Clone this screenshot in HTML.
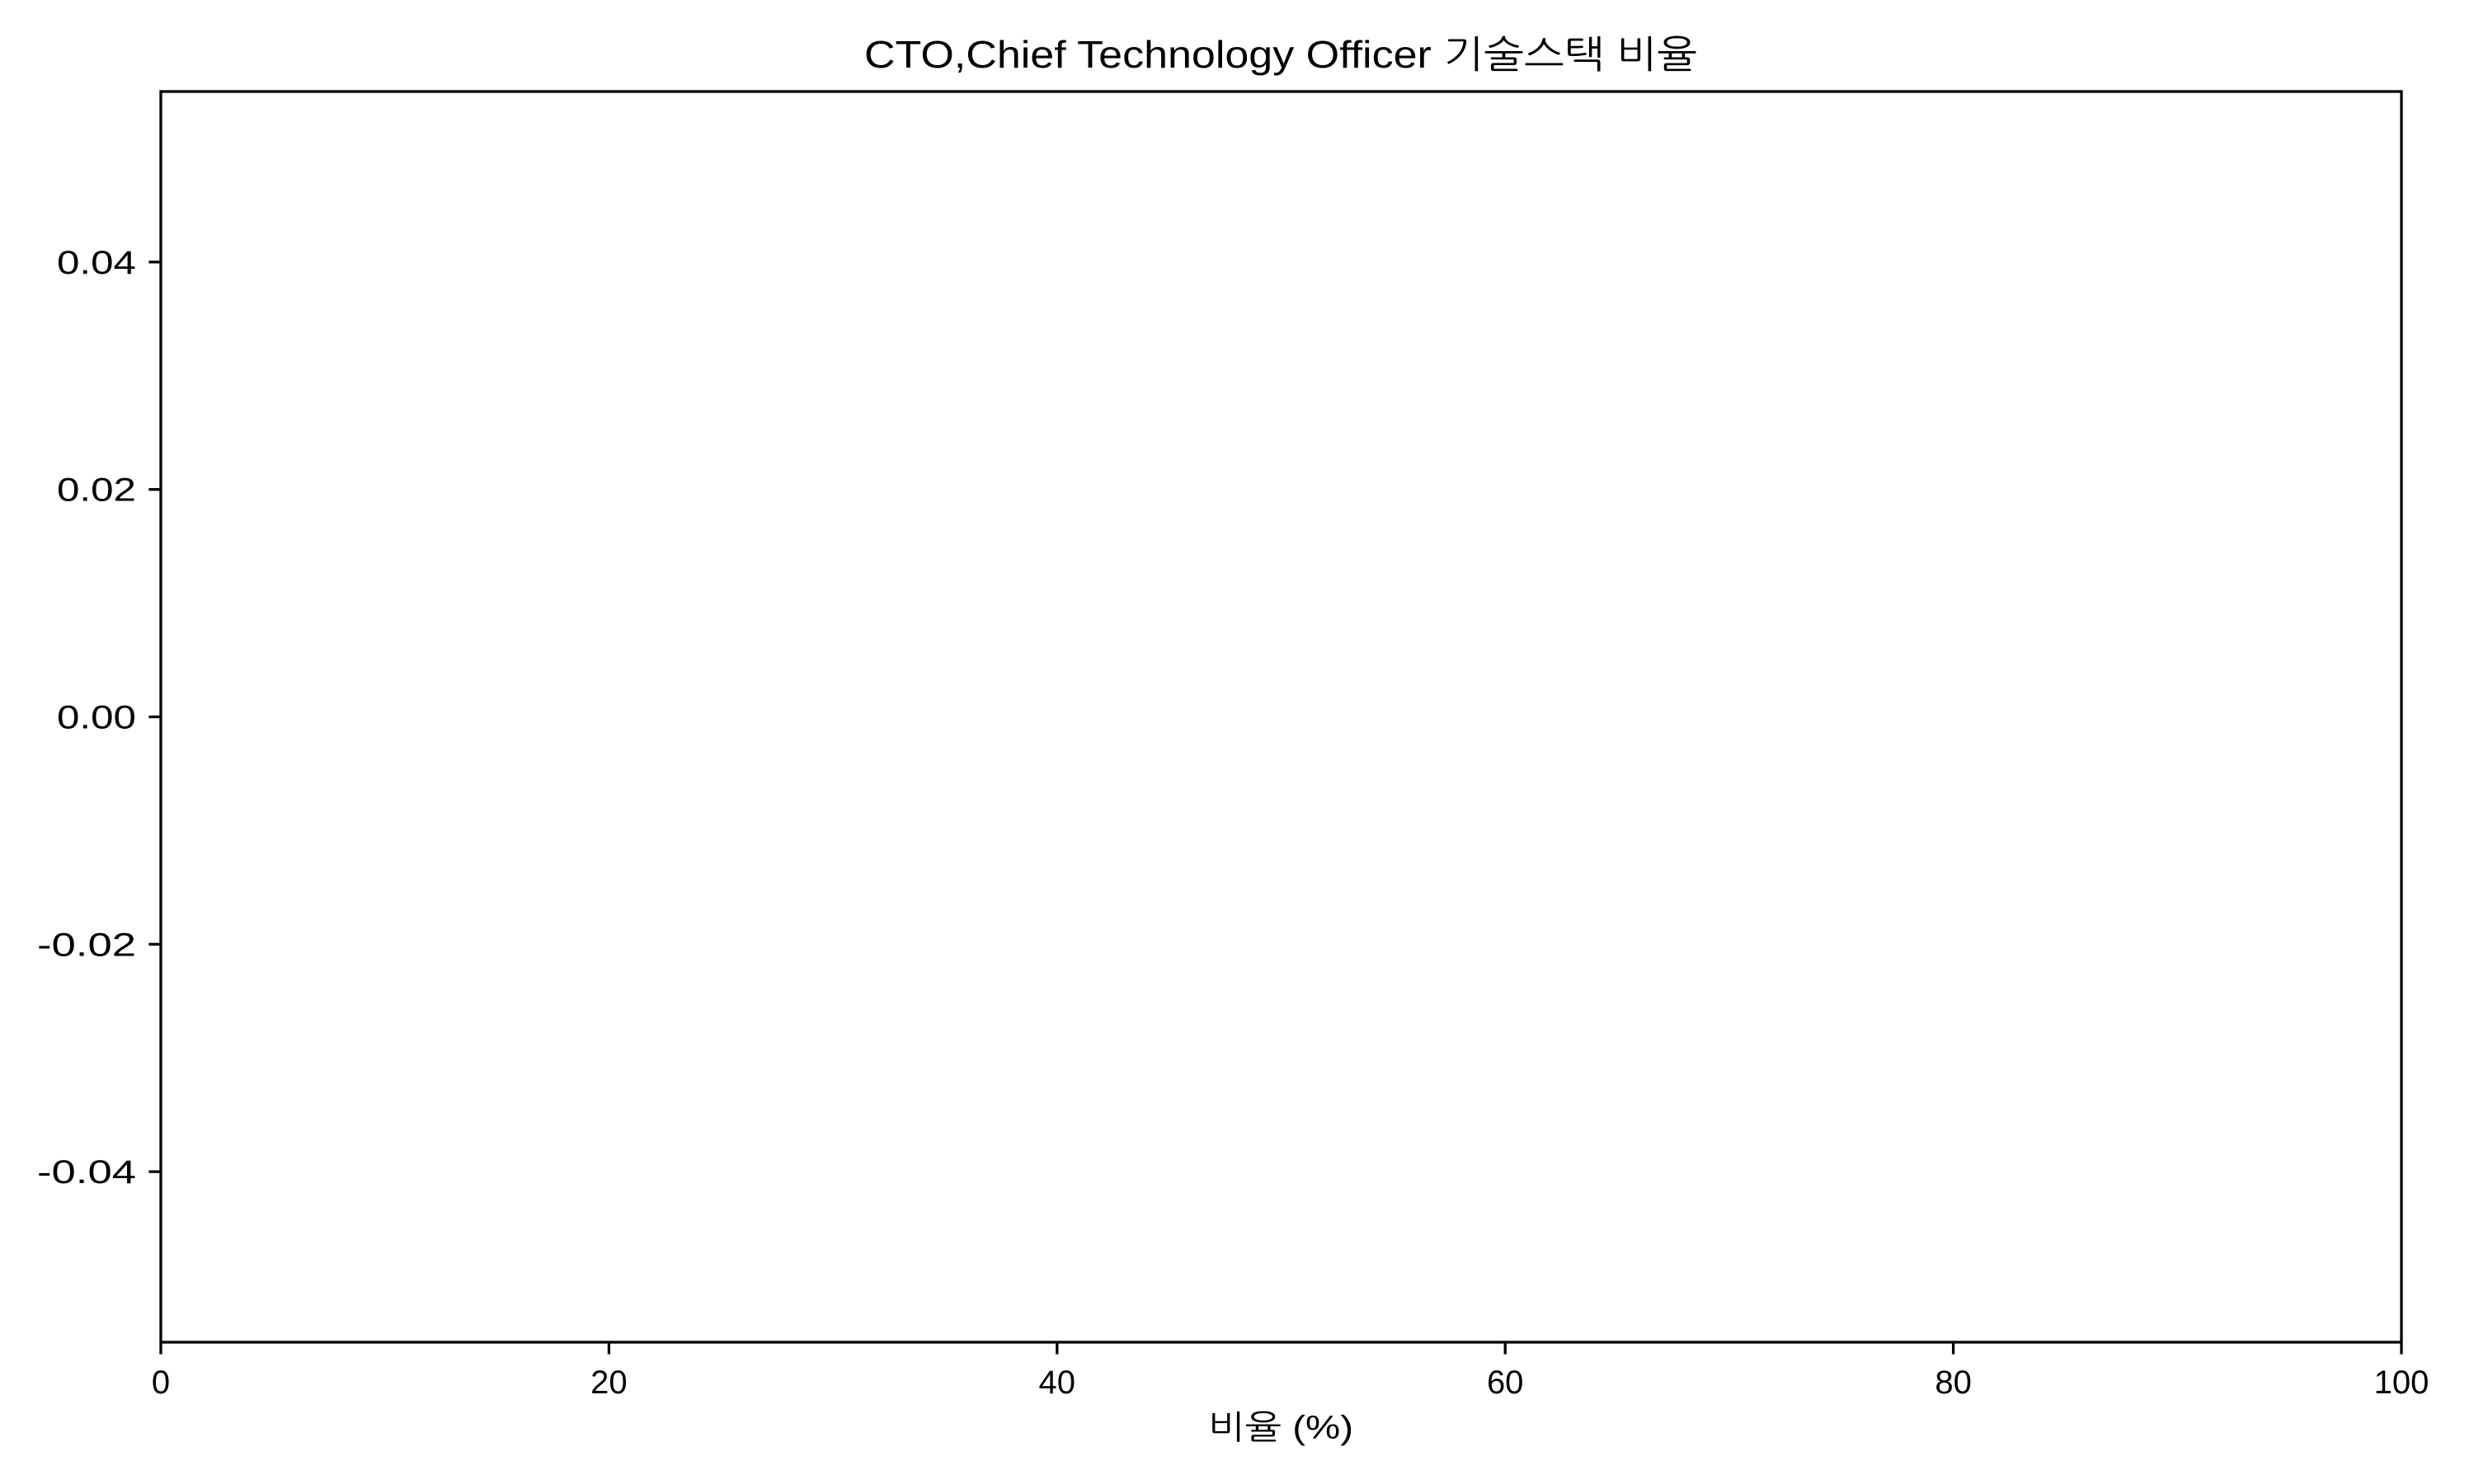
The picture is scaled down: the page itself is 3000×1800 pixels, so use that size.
<!DOCTYPE html>
<html><head><meta charset="utf-8"><style>
html,body{margin:0;padding:0;background:#fff;}
svg{display:block;}
text{font-family:"Liberation Sans","NanumGothic","Noto Sans CJK KR",sans-serif;fill:#000;}
</style></head><body>
<svg id="chart" width="3000" height="1800" viewBox="0 0 3000 1800">
<rect width="3000" height="1800" fill="#fff"/>
<text x="1553" y="82" font-size="46" text-anchor="middle" textLength="1010" lengthAdjust="spacingAndGlyphs">CTO,Chief Technology Officer 기술스택 비율</text>
<g id="ticks"></g>
<rect x="195" y="111" width="2717" height="1517" fill="none" stroke="#000" stroke-width="3.3"/>
<text x="1553" y="1745" font-size="40" text-anchor="middle" textLength="176" lengthAdjust="spacingAndGlyphs">비율 (%)</text>
</svg>
<script>
const xTicks = [0, 20, 40, 60, 80, 100];
const yTicks = [0.04, 0.02, 0.00, -0.02, -0.04];
const yTickLabels = ["0.04", "0.02", "0.00", "-0.02", "-0.04"];
const categories = [];
const values = [];
const L = 195, R = 2912, T = 111, B = 1628;
const xs = v => L + (v - 0) / 100 * (R - L);
const ys = v => B - (v + 0.055) / 0.11 * (B - T);
const g = document.getElementById('ticks');
const NS = 'http://www.w3.org/2000/svg';
xTicks.forEach(t => {
  const l = document.createElementNS(NS, 'line');
  l.setAttribute('x1', xs(t)); l.setAttribute('x2', xs(t));
  l.setAttribute('y1', B); l.setAttribute('y2', B + 14.6);
  l.setAttribute('stroke', '#000'); l.setAttribute('stroke-width', '3.3');
  
  
  g.appendChild(l);
  const tx = document.createElementNS(NS, 'text');
  tx.setAttribute('x', xs(t)); tx.setAttribute('y', B + 62);
  tx.setAttribute('font-size', '40'); tx.setAttribute('text-anchor', 'middle');
  tx.textContent = String(t);
  
  
  g.appendChild(tx);
});
yTicks.forEach((t, i) => {
  const l = document.createElementNS(NS, 'line');
  l.setAttribute('x1', L - 14.6); l.setAttribute('x2', L);
  l.setAttribute('y1', ys(t)); l.setAttribute('y2', ys(t));
  l.setAttribute('stroke', '#000'); l.setAttribute('stroke-width', '3.3');
  
  
  g.appendChild(l);
  const tx = document.createElementNS(NS, 'text');
  tx.setAttribute('x', L - 30); tx.setAttribute('y', ys(t) + 14);
  tx.setAttribute('font-size', '40'); tx.setAttribute('text-anchor', 'end');
  tx.setAttribute('textLength', yTickLabels[i].length * 24);
  tx.setAttribute('lengthAdjust', 'spacingAndGlyphs');
  tx.textContent = yTickLabels[i];
  
  
  g.appendChild(tx);
});
</script>
</body></html>
